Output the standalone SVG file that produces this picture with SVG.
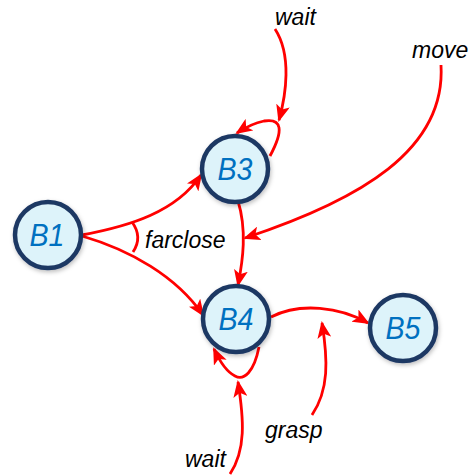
<svg xmlns="http://www.w3.org/2000/svg" width="472" height="476" viewBox="0 0 472 476">
<style>
.node{fill:#DDF3FA;stroke:#1F3864;stroke-width:4.5}
.nl{font-family:"Liberation Sans",Arial,sans-serif;font-style:italic;font-size:31px;fill:#0070C0;text-anchor:middle}
.lab{font-family:"Liberation Sans",Arial,sans-serif;font-style:italic;font-size:23px;fill:#000}
.e{fill:none;stroke:#FF0000;stroke-width:2.8}
.a{marker-end:url(#arr)}
</style>
<defs>
<marker id="arr" viewBox="0 0 17 14" refX="15" refY="7" markerWidth="17" markerHeight="14" markerUnits="userSpaceOnUse" orient="auto">
<path d="M0,0 L17,7 L0,14 L4,7 z" fill="#FF0000"/>
</marker>
<filter id="sh" x="-30%" y="-30%" width="160%" height="160%">
<feDropShadow dx="1" dy="2" stdDeviation="2" flood-color="#000" flood-opacity="0.25"/>
</filter>
</defs>
<g id="connectors">
<path class="e a" d="M275 29 C292 55 286 95 279 120"/>
<path class="e a" d="M270 156 C284 130 282 118 264 121 C254 123 246 127 237 133"/>
<path class="e a" d="M441 65 C446 150 360 200 245 238"/>
<path class="e a" d="M238 201 C247 230 243 260 238 285"/>
<path class="e a" d="M82 235 C130 226 176 212 201 175"/>
<path class="e a" d="M82 236 C130 250 176 276 203 315"/>
<path class="e" d="M132 222 Q143 237 133 252"/>
<path class="e a" d="M271 317 C300 302 340 307 368 323"/>
<path class="e a" d="M312 415 C329 390 328 360 322 323"/>
<path class="e a" d="M259 347 C254 372 244 381 235 376 C227 372 220 362 214 349"/>
<path class="e a" d="M230 474 C246 450 244 420 238 382"/>
</g>
<g id="B1"><circle class="node" cx="48" cy="235" r="33" filter="url(#sh)"/><text class="nl" x="47" y="246" textLength="35" lengthAdjust="spacingAndGlyphs">B1</text></g>
<g id="B3"><circle class="node" cx="235" cy="169" r="33" filter="url(#sh)"/><text class="nl" x="235" y="180" textLength="35" lengthAdjust="spacingAndGlyphs">B3</text></g>
<g id="B4"><circle class="node" cx="236" cy="319" r="33" filter="url(#sh)"/><text class="nl" x="236" y="330" textLength="35" lengthAdjust="spacingAndGlyphs">B4</text></g>
<g id="B5"><circle class="node" cx="403" cy="328" r="33" filter="url(#sh)"/><text class="nl" x="403" y="339" textLength="35" lengthAdjust="spacingAndGlyphs">B5</text></g>
<g id="labels">
<text class="lab" x="275" y="25">wait</text>
<text class="lab" x="412" y="58">move</text>
<text class="lab" x="145" y="248">farclose</text>
<text class="lab" x="265" y="438">grasp</text>
<text class="lab" x="185" y="467">wait</text>
</g>
</svg>
